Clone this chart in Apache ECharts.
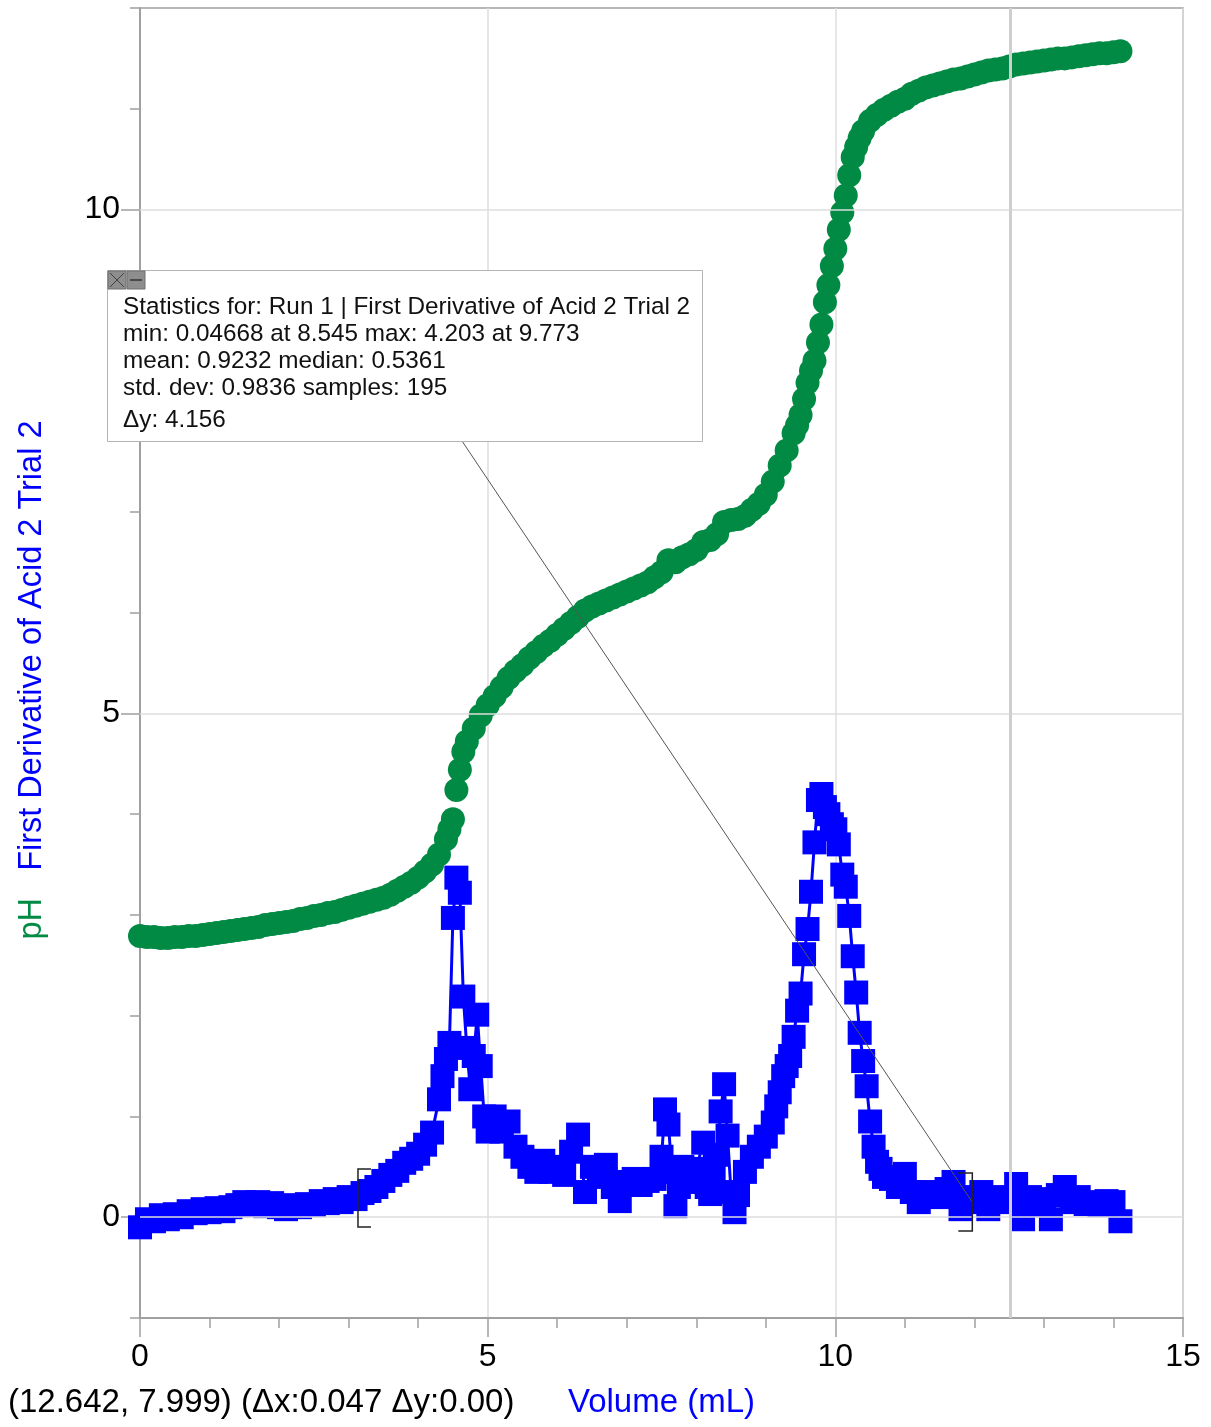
<!DOCTYPE html>
<html><head><meta charset="utf-8">
<script src="https://cdn.jsdelivr.net/npm/echarts@6/dist/echarts.min.js"></script>
<style>html,body{margin:0;padding:0;background:#fff}#c{width:1211px;height:1427px}</style>
</head><body><div id="c"></div>
<script>
// ---- data ----
const phVolume = [0,0.1,0.2,0.3,0.4,0.5,0.6,0.7,0.8,0.9,1.0,1.1,1.2,1.3,1.4,1.5,1.6,1.7,1.8,1.9,2.0,2.1,2.2,2.3,2.4,2.5,2.6,2.7,2.8,2.9,3.0,3.1,3.2,3.3,3.4,3.5,3.6,3.7,3.8,3.9,4.0,4.1,4.2,4.3,4.4,4.45,4.5,4.55,4.6,4.65,4.7,4.8,4.9,5.0,5.1,5.2,5.3,5.4,5.5,5.6,5.7,5.8,5.9,6.0,6.1,6.2,6.3,6.4,6.5,6.6,6.7,6.8,6.9,7.0,7.1,7.2,7.3,7.4,7.5,7.6,7.7,7.8,7.9,8.0,8.1,8.2,8.3,8.4,8.5,8.6,8.7,8.8,8.9,9.0,9.1,9.2,9.3,9.4,9.45,9.5,9.55,9.6,9.65,9.7,9.75,9.8,9.85,9.9,9.95,10.0,10.05,10.1,10.15,10.2,10.25,10.3,10.35,10.4,10.5,10.6,10.7,10.8,10.9,11.0,11.1,11.2,11.3,11.4,11.5,11.6,11.7,11.8,11.9,12.0,12.1,12.2,12.3,12.4,12.5,12.6,12.7,12.8,12.9,13.0,13.1,13.2,13.3,13.4,13.5,13.6,13.7,13.8,13.9,14.0,14.1];
const phValue = [2.79,2.78,2.78,2.77,2.77,2.78,2.78,2.79,2.79,2.8,2.81,2.82,2.83,2.84,2.85,2.86,2.87,2.88,2.9,2.91,2.92,2.93,2.94,2.96,2.97,2.99,3.0,3.02,3.03,3.05,3.07,3.09,3.11,3.13,3.15,3.17,3.2,3.24,3.28,3.32,3.37,3.43,3.5,3.6,3.75,3.85,3.95,4.24,4.44,4.62,4.72,4.85,4.98,5.08,5.17,5.26,5.35,5.42,5.48,5.55,5.61,5.67,5.72,5.78,5.84,5.9,5.96,6.02,6.06,6.09,6.12,6.15,6.18,6.21,6.24,6.27,6.3,6.35,6.4,6.52,6.5,6.55,6.58,6.62,6.7,6.72,6.78,6.9,6.92,6.93,6.96,7.02,7.08,7.17,7.3,7.46,7.61,7.78,7.86,7.96,8.12,8.28,8.4,8.5,8.68,8.86,9.08,9.25,9.44,9.61,9.8,9.97,10.14,10.34,10.52,10.62,10.71,10.78,10.88,10.94,10.99,11.03,11.07,11.1,11.15,11.18,11.21,11.23,11.25,11.27,11.29,11.3,11.32,11.34,11.36,11.38,11.39,11.4,11.42,11.44,11.45,11.46,11.47,11.48,11.49,11.5,11.5,11.51,11.52,11.53,11.54,11.55,11.55,11.56,11.57];

const derivVolume = [0,0.1,0.2,0.3,0.4,0.5,0.6,0.7,0.8,0.9,1.0,1.1,1.2,1.3,1.4,1.5,1.6,1.7,1.8,1.9,2.0,2.1,2.2,2.3,2.4,2.5,2.6,2.7,2.8,2.9,3.0,3.1,3.2,3.3,3.4,3.5,3.6,3.7,3.8,3.9,4.0,4.1,4.2,4.3,4.35,4.4,4.45,4.5,4.55,4.6,4.65,4.7,4.75,4.8,4.85,4.9,4.95,5.0,5.1,5.2,5.3,5.4,5.5,5.6,5.7,5.8,5.9,6.0,6.1,6.2,6.3,6.4,6.5,6.6,6.7,6.8,6.9,7.0,7.1,7.2,7.3,7.4,7.5,7.55,7.6,7.65,7.7,7.75,7.8,7.9,8.0,8.1,8.15,8.2,8.25,8.3,8.35,8.4,8.45,8.5,8.55,8.6,8.7,8.8,8.9,9.0,9.1,9.15,9.2,9.25,9.3,9.35,9.4,9.45,9.5,9.55,9.6,9.65,9.7,9.75,9.8,9.85,9.9,9.95,10.0,10.05,10.1,10.15,10.2,10.25,10.3,10.35,10.4,10.45,10.5,10.55,10.6,10.65,10.7,10.8,10.9,11.0,11.1,11.2,11.3,11.4,11.5,11.6,11.7,11.8,11.9,12.0,12.1,12.2,12.3,12.4,12.5,12.6,12.7,12.8,12.9,13.0,13.1,13.2,13.3,13.4,13.5,13.6,13.7,13.8,13.9,14.0,14.1];
const derivValue = [-0.1,-0.02,-0.04,0.02,-0.02,0.03,0.0,0.06,0.04,0.08,0.05,0.09,0.06,0.1,0.12,0.15,0.12,0.15,0.11,0.14,0.1,0.08,0.12,0.1,0.13,0.12,0.16,0.14,0.18,0.15,0.2,0.18,0.24,0.26,0.3,0.36,0.42,0.46,0.54,0.58,0.63,0.72,0.84,1.17,1.4,1.57,1.73,2.97,3.37,3.22,2.19,1.68,1.27,1.6,2.01,1.5,1.0,0.85,1.0,0.85,0.95,0.7,0.6,0.5,0.45,0.56,0.45,0.5,0.42,0.65,0.82,0.25,0.5,0.4,0.52,0.3,0.16,0.35,0.38,0.32,0.36,0.38,0.6,1.07,0.92,0.45,0.11,0.3,0.5,0.35,0.48,0.74,0.3,0.23,0.4,0.62,1.05,1.32,0.81,0.25,0.05,0.22,0.45,0.6,0.7,0.8,0.94,1.1,1.24,1.4,1.5,1.6,1.79,2.05,2.22,2.61,2.86,3.23,3.72,4.14,4.2,4.07,4.0,3.9,3.85,3.7,3.4,3.28,2.99,2.59,2.23,1.83,1.55,1.3,0.95,0.7,0.55,0.48,0.4,0.38,0.3,0.43,0.25,0.15,0.25,0.22,0.2,0.28,0.35,0.08,0.2,0.15,0.25,0.08,0.2,0.15,0.18,0.33,-0.02,0.2,0.12,0.18,-0.02,0.22,0.3,0.15,0.2,0.13,0.15,0.12,0.16,0.15,-0.04];

const xTickValues = [0, 5, 10, 15];
const yTickValues = [0, 5, 10];
const cursorVolume = 12.52;
const selectionStart = 3.135, selectionEnd = 11.97;
const bracketLevels = [0.19, 0.15];
const statsLines = [
  'Statistics for: Run 1 | First Derivative of Acid 2 Trial 2',
  'min: 0.04668 at 8.545 max: 4.203 at 9.773',
  'mean: 0.9232 median: 0.5361',
  'std. dev: 0.9836 samples: 195',
  '\u0394y: 4.156'
];
const statusText = '(12.642, 7.999) (\u0394x:0.047 \u0394y:0.00)';
const xTitle = 'Volume (mL)';
const yTitlePh = 'pH';
const yTitleDeriv = 'First Derivative of Acid 2 Trial 2';

// ---- styling ----
const FONT = 'Liberation Sans, Arial, sans-serif';
const GREEN = '#008a44';
const BLUE = '#0000ff';
const AXIS = '#a0a0a0';
const GRIDC = '#dedede';

const phData = phVolume.map((v, i) => [v, phValue[i]]);
const derivData = derivVolume.map((v, i) => [v, derivValue[i]]);

const chart = echarts.init(document.getElementById('c'), null, {renderer: 'canvas'});

const option = {
  animation: false,
  backgroundColor: '#fff',
  textStyle: {fontFamily: FONT},
  grid: {left: 140, top: 8, right: 28, bottom: 109, show: true, borderColor: AXIS, borderWidth: 1.5, outerBoundsMode: 'none', containLabel: false},
  xAxis: {
    type: 'value', min: 0, max: 15, interval: 5,
    axisLine: {show: true, onZero: false, lineStyle: {color: AXIS, width: 2}},
    axisTick: {show: true, length: 19, lineStyle: {color: AXIS, width: 1.5}},
    minorTick: {show: true, splitNumber: 5, length: 10, lineStyle: {color: AXIS, width: 1.5}},
    splitLine: {show: true, lineStyle: {color: GRIDC, width: 1.5}},
    axisLabel: {fontSize: 32, color: '#000', margin: 23, fontFamily: FONT},
    name: xTitle, nameLocation: 'middle', nameGap: 68,
    nameTextStyle: {color: BLUE, fontSize: 33, fontFamily: FONT}
  },
  yAxis: [{
    type: 'value', min: -1, max: 12, interval: 1,
    axisLine: {show: true, onZero: false, lineStyle: {color: AXIS, width: 2}},
    axisTick: {show: true, length: 19, customValues: yTickValues, lineStyle: {color: AXIS, width: 1.5}},
    axisLabel: {fontSize: 32, color: '#000', margin: 20, fontFamily: FONT, customValues: yTickValues},
    splitLine: {show: false}
  }, {
    type: 'value', min: -1, max: 12, interval: 1, position: 'left',
    axisLine: {show: false},
    axisTick: {show: true, length: 10, lineStyle: {color: AXIS, width: 1.5}},
    axisLabel: {show: false},
    splitLine: {show: false}
  }],
  series: [{
    type: 'line', data: [], z: 1, silent: true,
    markLine: {
      silent: true, symbol: ['none', 'none'], label: {show: false}, animation: false,
      lineStyle: {color: GRIDC, width: 1.5, type: 'solid'},
      data: yTickValues.map(v => ({yAxis: v})).concat([{xAxis: cursorVolume, lineStyle: {color: '#cfcfcf', width: 3, type: 'solid'}}])
    }
  }, {
    name: 'pH', type: 'scatter', data: phData, z: 2,
    symbol: 'circle', symbolSize: 24,
    itemStyle: {color: GREEN, opacity: 1}
  }, {
    name: 'First Derivative', type: 'line', data: derivData, z: 3,
    symbol: 'rect', symbolSize: 24, showAllSymbol: true,
    lineStyle: {color: BLUE, width: 3},
    itemStyle: {color: BLUE, opacity: 1}
  }]
};
chart.setOption(option);

// ---- annotations (positions derived from axes) ----
const pL = chart.convertToPixel({xAxisIndex: 0, yAxisIndex: 0}, [selectionStart, bracketLevels[0]]);
const pR = chart.convertToPixel({xAxisIndex: 0, yAxisIndex: 0}, [selectionEnd, bracketLevels[1]]);
const bh = 29;
const box = {x: 107.5, y: 270.5, w: 595, h: 171};
const lineYs = [307, 334, 361, 388, 420];

const graphics = [
  {type: 'line', z: 50, silent: true, shape: {x1: box.x + box.w / 2, y1: box.y + box.h / 2, x2: pR[0], y2: pR[1]}, style: {stroke: '#555', lineWidth: 1}},
  {type: 'polyline', z: 50, silent: true, shape: {points: [[pL[0] + 13, pL[1] - bh], [pL[0], pL[1] - bh], [pL[0], pL[1] + bh], [pL[0] + 13, pL[1] + bh]]}, style: {stroke: '#222', lineWidth: 1.5, fill: null}},
  {type: 'polyline', z: 50, silent: true, shape: {points: [[pR[0] - 14, pR[1] - bh], [pR[0], pR[1] - bh], [pR[0], pR[1] + bh], [pR[0] - 14, pR[1] + bh]]}, style: {stroke: '#222', lineWidth: 1.5, fill: null}},
  {type: 'rect', z: 60, silent: true, shape: {x: box.x, y: box.y, width: box.w, height: box.h}, style: {fill: '#fff', stroke: '#b4b4b4', lineWidth: 1}},
  {type: 'rect', z: 61, silent: true, shape: {x: 108, y: 271, width: 18, height: 18}, style: {fill: '#8e8e8e', stroke: '#6e6e6e', lineWidth: 1}},
  {type: 'line', z: 62, silent: true, shape: {x1: 110, y1: 273, x2: 124, y2: 287}, style: {stroke: '#444', lineWidth: 1}},
  {type: 'line', z: 62, silent: true, shape: {x1: 124, y1: 273, x2: 110, y2: 287}, style: {stroke: '#444', lineWidth: 1}},
  {type: 'rect', z: 61, silent: true, shape: {x: 127, y: 271, width: 18, height: 18}, style: {fill: '#8e8e8e', stroke: '#6e6e6e', lineWidth: 1}},
  {type: 'line', z: 62, silent: true, shape: {x1: 130, y1: 280, x2: 142, y2: 280}, style: {stroke: '#333', lineWidth: 1.5}}
];
statsLines.forEach((t, i) => {
  graphics.push({type: 'text', z: 63, silent: true, x: 123, y: lineYs[i],
    style: {text: t, fontSize: 24.3, fontFamily: FONT, fill: '#111', align: 'left', verticalAlign: 'middle'}});
});
graphics.push({type: 'text', z: 63, silent: true, x: 8, y: 1403,
  style: {text: statusText, fontSize: 33, fontFamily: FONT, fill: '#000', align: 'left', verticalAlign: 'middle'}});
graphics.push({type: 'text', z: 63, silent: true, x: 32, y: 680, rotation: Math.PI / 2,
  style: {text: '{g|' + yTitlePh + '}   {b|' + yTitleDeriv + '}', fontSize: 32.5, fontFamily: FONT, align: 'center', verticalAlign: 'middle',
    rich: {g: {fill: GREEN, fontSize: 32.5, fontFamily: FONT}, b: {fill: BLUE, fontSize: 32.5, fontFamily: FONT}}}});

chart.setOption({graphic: graphics});
</script>
</body></html>
